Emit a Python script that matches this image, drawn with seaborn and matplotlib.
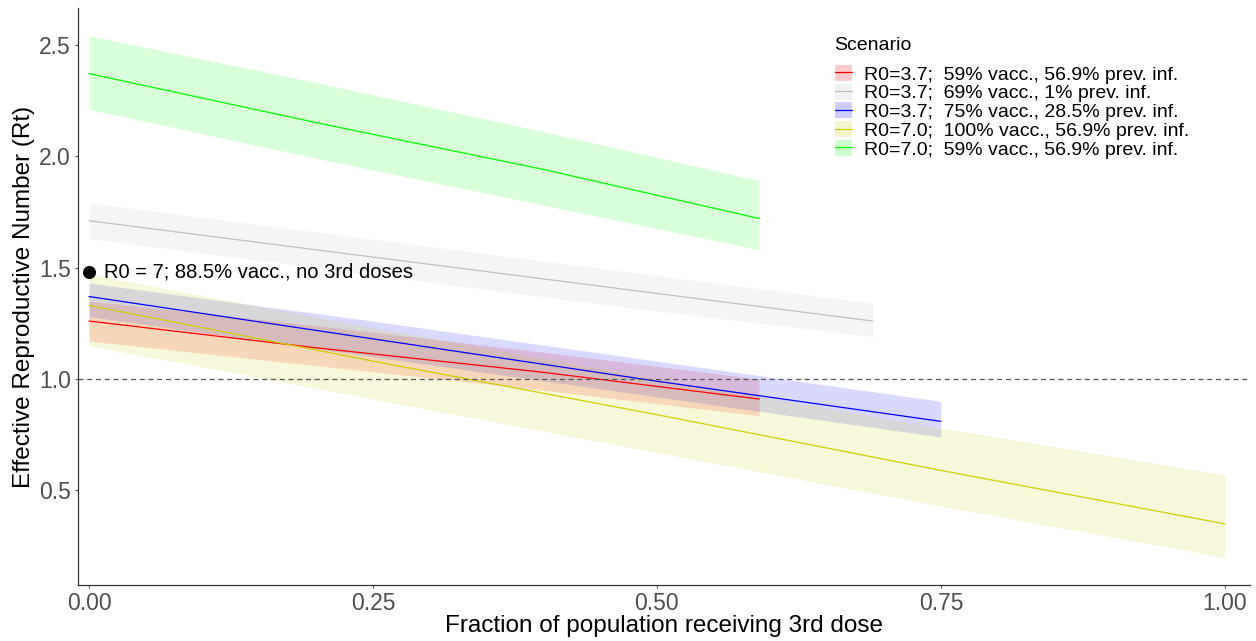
import numpy as np
import pandas as pd
import seaborn as sns
import matplotlib.pyplot as plt
from matplotlib.patches import Patch
from matplotlib.lines import Line2D

# scenario data
scenarios = ["R0=3.7;  59% vacc., 56.9% prev. inf.",
             "R0=3.7;  69% vacc., 1% prev. inf.",
             "R0=3.7;  75% vacc., 28.5% prev. inf.",
             "R0=7.0;  100% vacc., 56.9% prev. inf.",
             "R0=7.0;  59% vacc., 56.9% prev. inf."]
line_colors = ["#ff0000", "#bebebe", "#0000ff", "#cdcd00", "#00ff00"]

red_x = [0, 0.2, 0.4, 0.59]
red_mid = [1.26, 1.14, 1.03, 0.91]
red_lo = [1.17, 1.06, 0.95, 0.835]
red_hi = [1.35, 1.24, 1.12, 1.00]

gray_x = [0, 0.23, 0.46, 0.69]
gray_mid = [1.71, 1.56, 1.41, 1.26]
gray_lo = [1.63, 1.48, 1.33, 1.19]
gray_hi = [1.79, 1.64, 1.49, 1.34]

blue_x = [0, 0.25, 0.5, 0.75]
blue_mid = [1.37, 1.18, 0.99, 0.81]
blue_lo = [1.28, 1.10, 0.92, 0.74]
blue_hi = [1.43, 1.26, 1.08, 0.90]

yel_x = [0, 0.25, 0.5, 0.75, 1.0]
yel_mid = [1.33, 1.08, 0.84, 0.59, 0.35]
yel_lo = [1.15, 0.91, 0.67, 0.43, 0.20]
yel_hi = [1.47, 1.23, 1.00, 0.78, 0.57]

green_x = [0, 0.2, 0.4, 0.59]
green_mid = [2.37, 2.15, 1.94, 1.72]
green_lo = [2.21, 1.99, 1.78, 1.58]
green_hi = [2.54, 2.33, 2.11, 1.89]

baseline_x = 0.0
baseline_rt = 1.48
baseline_label = "R0 = 7; 88.5% vacc., no 3rd doses"

xs = [red_x, gray_x, blue_x, yel_x, green_x]
mids = [red_mid, gray_mid, blue_mid, yel_mid, green_mid]
los = [red_lo, gray_lo, blue_lo, yel_lo, green_lo]
his = [red_hi, gray_hi, blue_hi, yel_hi, green_hi]

frames = []
for s, x, m, lo, hi in zip(scenarios, xs, mids, los, his):
    frames.append(pd.DataFrame({"frac": x, "rt": m, "lo": lo, "hi": hi, "Scenario": s}))
df = pd.concat(frames, ignore_index=True)

sns.set_theme(style="white")
plt.rcParams['font.family'] = ['Liberation Sans', 'DejaVu Sans']

fig = plt.figure(figsize=(12.56, 6.41), dpi=100)
ax = fig.add_axes([0.0621, 0.0874, 0.933, 0.9])

fill_alpha = 0.15
for s, c in zip(scenarios, line_colors):
    d = df[df.Scenario == s]
    ax.fill_between(d.frac, d.lo, d.hi, color=c, alpha=fill_alpha, linewidth=0)

sns.lineplot(data=df, x="frac", y="rt", hue="Scenario", palette=dict(zip(scenarios, line_colors)),
             linewidth=0.9, ax=ax, legend=False, estimator=None, sort=True)

ax.axhline(1.0, color="#555555", linestyle=(0, (4, 3)), linewidth=0.9)

ax.scatter([baseline_x], [baseline_rt], s=70, color="black", zorder=5)
ax.text(baseline_x + 0.013, baseline_rt, baseline_label, fontsize=14.5, va="center", ha="left", color="black")

ax.set_xlim(-0.0097, 1.022)
ax.set_ylim(0.076, 2.664)
ax.set_xticks([0, 0.25, 0.5, 0.75, 1.0])
ax.set_xticklabels(["0.00", "0.25", "0.50", "0.75", "1.00"])
ax.set_yticks([0.5, 1.0, 1.5, 2.0, 2.5])
ax.set_yticklabels(["0.5", "1.0", "1.5", "2.0", "2.5"])
ax.tick_params(axis="both", labelsize=16.5, labelcolor="#4d4d4d", color="#555555",
               length=2.5, width=0.8, direction="out", bottom=True, left=True, pad=2.5)
ax.set_xlabel("Fraction of population receiving 3rd dose", fontsize=17.5, color="black", labelpad=0)
ax.set_ylabel("Effective Reproductive Number (Rt)", fontsize=17.5, color="black", labelpad=3)

sns.despine(ax=ax)
for sp in ["left", "bottom"]:
    ax.spines[sp].set_color("#333333")
    ax.spines[sp].set_linewidth(0.9)

handles = [(Patch(facecolor=c, alpha=fill_alpha * 1.3, edgecolor="none"), Line2D([], [], color=c, linewidth=0.9))
           for c in line_colors]
leg = ax.legend(handles, scenarios, title="Scenario", loc="upper left", bbox_to_anchor=(0.634, 0.974),
                frameon=False, fontsize=14, title_fontsize=14, handlelength=0.9, handleheight=0.9,
                handletextpad=0.6, labelspacing=0.0, alignment="left", borderaxespad=0.3,
                labelcolor="black")
leg.get_title().set_color("black")
leg._legend_box.sep = 8  # extra room under the legend title

fig.savefig("out.png", dpi=100)
